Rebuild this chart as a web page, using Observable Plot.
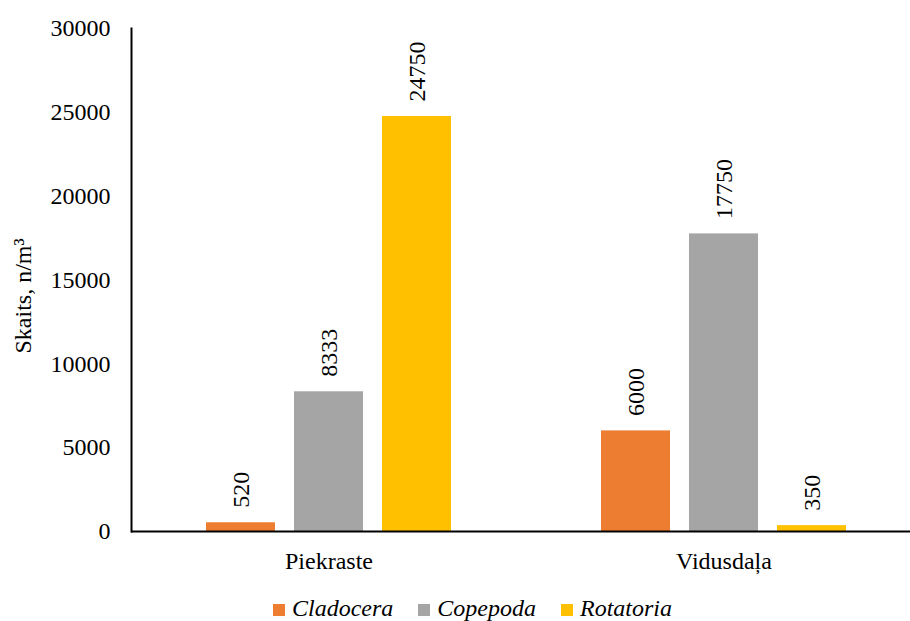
<!DOCTYPE html>
<html>
<head>
<meta charset="utf-8">
<script src="https://cdn.jsdelivr.net/npm/d3@7"></script>
<script src="https://cdn.jsdelivr.net/npm/@observablehq/plot@0.6"></script>
<style>
  html, body { margin: 0; padding: 0; background: white; overflow: hidden; }
  #wrap { position: relative; width: 910px; height: 621px; font-family: "Liberation Serif", "Times New Roman", serif; }
  #legend { position: absolute; left: 273px; top: 596px; font-family: "Liberation Serif", "Times New Roman", serif; font-size: 24px; line-height: 24px; font-style: italic; white-space: nowrap; color: black; }
  #legend .sw { display: inline-block; width: 12px; height: 12px; margin-right: 7px; vertical-align: baseline; }
  #legend .item { display: inline-block; margin-right: 25px; }
</style>
</head>
<body>
<div id="wrap"><div id="chart"></div><div id="legend"></div></div>
<script>
const groups = ["Piekraste", "Vidusdaļa"];
const species = ["Cladocera", "Copepoda", "Rotatoria"];
const piekrasteValues = [520, 8333, 24750];
const vidusdalaValues = [6000, 17750, 350];
const colors = ["#ED7D31", "#A5A5A5", "#FFC000"];
const yTicks = [0, 5000, 10000, 15000, 20000, 25000, 30000];
const yLabel = "Skaits, n/m³";

const seriesByGroup = [piekrasteValues, vidusdalaValues];
const data = groups.flatMap((g, i) =>
  species.map((s, j) => ({group: g, species: s, value: seriesByGroup[i][j]}))
);

const font = '"Liberation Serif", "Times New Roman", serif';

const chart = Plot.plot({
  width: 910,
  height: 590,
  marginLeft: 131,
  marginRight: 0,
  marginTop: 28,
  marginBottom: 59,
  style: {fontFamily: font, fontSize: "24px", color: "black", background: "white", overflow: "visible"},
  fx: {domain: groups, range: [131, 921], padding: 0, label: null},
  x: {domain: species, paddingInner: 0.216, paddingOuter: 0.852, axis: null},
  y: {domain: [0, 30000]},
  color: {domain: species, range: colors},
  marks: [
    Plot.barY(data, {fx: "group", x: "species", y: "value", fill: "species"}),
    Plot.text(data, {
      fx: "group", x: "species", y: "value",
      text: d => String(d.value),
      rotate: -90, textAnchor: "start", dy: -15,
      fontSize: 24, fontFamily: font, fill: "black"
    }),
    Plot.ruleY([0], {stroke: "black", strokeWidth: 2}),
    Plot.axisY({ticks: yTicks, tickSize: 0, tickPadding: 21, label: null, tickFormat: d3.format("d"), fontSize: 24, fontFamily: font}),
    Plot.axisFx({anchor: "bottom", tickSize: 0, tickPadding: 20, label: null, fontSize: 24, fontFamily: font}),
    Plot.frame({anchor: "left", facetAnchor: "left", stroke: "black", strokeWidth: 2}),
    Plot.text([yLabel], {frameAnchor: "left", facetAnchor: "left", rotate: -90, textAnchor: "start", dx: -108, dy: 73.5, fontSize: 24, fontFamily: font, fill: "black"})
  ]
});
document.getElementById("chart").appendChild(chart);

const legend = document.getElementById("legend");
species.forEach((s, i) => {
  const item = document.createElement("span");
  item.className = "item";
  const sw = document.createElement("span");
  sw.className = "sw";
  sw.style.background = colors[i];
  item.appendChild(sw);
  item.appendChild(document.createTextNode(s));
  legend.appendChild(item);
});
</script>
</body>
</html>
